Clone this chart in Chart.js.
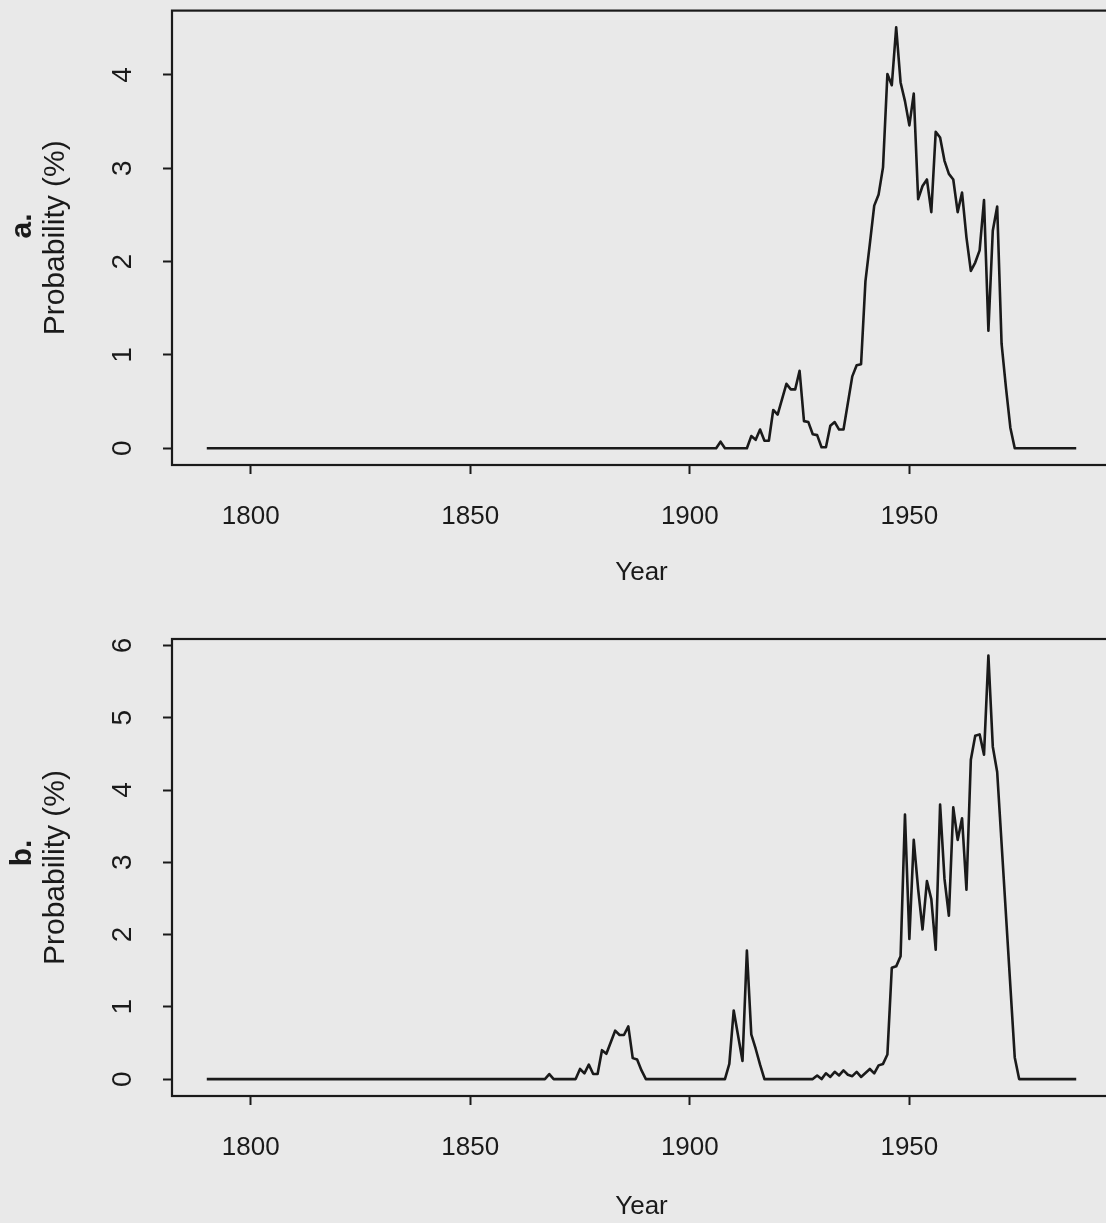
<!DOCTYPE html>
<html>
<head>
<meta charset="utf-8">
<title>Probability by year</title>
<script src="https://cdn.jsdelivr.net/npm/chart.js@4.4.1/dist/chart.umd.min.js"></script>
<style>
	html, body { margin: 0; padding: 0; overflow: hidden; width: 1106px; height: 1223px; background: #e9e9e9; }
	canvas { position: absolute; left: 0; }
	#chartA { top: 0; }
	#chartB { top: 600px; }
</style>
</head>
<body>
<canvas id="chartA" width="1111" height="588"></canvas>
<canvas id="chartB" width="1111" height="622"></canvas>
<script>
	"use strict";

	// tick positions shared by both panels
	var xTicks = [1800, 1850, 1900, 1950];
	var yTicksA = [0, 1, 2, 3, 4];
	var yTicksB = [0, 1, 2, 3, 4, 5, 6];

	// panel a: yearly probability (%), flat stretches kept as their end points
	var yearsA = [1790, 1906, 1907, 1908, 1913, 1914, 1915, 1916, 1917, 1918,
		1919, 1920, 1922, 1923, 1924, 1925, 1926, 1927, 1928, 1929,
		1930, 1931, 1932, 1933, 1934, 1935, 1937, 1938, 1939, 1940,
		1941, 1942, 1943, 1944, 1945, 1946, 1947, 1948, 1949, 1950,
		1951, 1952, 1953, 1954, 1955, 1956, 1957, 1958, 1959, 1960,
		1961, 1962, 1963, 1964, 1965, 1966, 1967, 1968, 1969, 1970,
		1971, 1972, 1973, 1974, 1988];
	var probA = [0, 0, 0.07, 0, 0, 0.13, 0.09, 0.20, 0.08, 0.08,
		0.41, 0.36, 0.69, 0.63, 0.63, 0.83, 0.29, 0.28, 0.15, 0.14,
		0.01, 0.01, 0.24, 0.28, 0.20, 0.20, 0.77, 0.89, 0.90, 1.79,
		2.19, 2.60, 2.72, 3.01, 4.01, 3.89, 4.51, 3.92, 3.72, 3.46,
		3.80, 2.67, 2.81, 2.88, 2.53, 3.39, 3.33, 3.08, 2.94, 2.88,
		2.53, 2.74, 2.26, 1.90, 1.99, 2.12, 2.66, 1.26, 2.33, 2.59,
		1.12, 0.65, 0.22, 0, 0];

	// panel b
	var yearsB = [1790, 1867, 1868, 1869, 1874, 1875, 1876, 1877, 1878, 1879,
		1880, 1881, 1882, 1883, 1884, 1885, 1886, 1887, 1888, 1889,
		1890, 1908, 1909, 1910, 1911, 1912, 1913, 1914, 1915, 1916,
		1917, 1928, 1929, 1930, 1931, 1932, 1933, 1934, 1935, 1936,
		1937, 1938, 1939, 1941, 1942, 1943, 1944, 1945, 1946, 1947,
		1948, 1949, 1950, 1951, 1952, 1953, 1954, 1955, 1956, 1957,
		1958, 1959, 1960, 1961, 1962, 1963, 1964, 1965, 1966, 1967,
		1968, 1969, 1970, 1974, 1975, 1988];
	var probB = [0, 0, 0.07, 0, 0, 0.14, 0.08, 0.20, 0.07, 0.07,
		0.40, 0.35, 0.51, 0.67, 0.61, 0.61, 0.73, 0.29, 0.27, 0.12,
		0, 0, 0.21, 0.95, 0.60, 0.25, 1.78, 0.62, 0.42, 0.20,
		0, 0, 0.05, 0, 0.08, 0.03, 0.10, 0.05, 0.12, 0.06,
		0.04, 0.10, 0.03, 0.14, 0.08, 0.19, 0.21, 0.34, 1.54, 1.56,
		1.70, 3.66, 1.94, 3.31, 2.63, 2.07, 2.74, 2.49, 1.79, 3.80,
		2.77, 2.26, 3.76, 3.31, 3.61, 2.62, 4.42, 4.75, 4.77, 4.49,
		5.86, 4.60, 4.25, 0.30, 0, 0];

	var INK = "#1a1a1a";
	var FAMILY = "'Liberation Sans', Arial, Helvetica, sans-serif";

	Chart.defaults.font.family = FAMILY;
	Chart.defaults.color = INK;

	/** Box round the plot region and the bold panel letter beside the y title */
	var framePlugin = {
		id: "frame",
		afterDraw: function (chart, args, opts) {
			var ctx = chart.ctx, area = chart.chartArea;
			ctx.save();
			ctx.strokeStyle = INK;
			ctx.lineWidth = 2.2;
			ctx.strokeRect(area.left, area.top, area.right - area.left, area.bottom - area.top);
			ctx.fillStyle = INK;
			ctx.font = "bold 30px " + FAMILY;
			ctx.textAlign = "center";
			ctx.textBaseline = "middle";
			ctx.translate(opts.x, opts.y);
			ctx.rotate(-Math.PI / 2);
			ctx.fillText(opts.letter, 0, 0);
			ctx.restore();
		}
	};

	function toPoints(years, values) {
		return years.map(function (yr, i) {
			return { x: yr, y: values[i] };
		});
	}

	function fixedTicks(list) {
		return function (scale) {
			scale.ticks = list.map(function (v) { return { value: v }; });
		};
	}

	var tickGrid = {
		display: true,
		drawOnChartArea: false,
		drawTicks: true,
		tickLength: 9,
		tickWidth: 2,
		tickColor: INK
	};

	/** Creates one panel
	 * @param {string} id - canvas id
	 * @param {object} cfg - data and layout for the panel
	 */
	function createPanel(id, cfg) {
		return new Chart(document.getElementById(id), {
			type: "line",
			data: {
				datasets: [{
					data: toPoints(cfg.years, cfg.values),
					borderColor: INK,
					borderWidth: 2.6,
					borderJoinStyle: "round",
					pointRadius: 0,
					tension: 0,
					fill: false
				}]
			},
			options: {
				responsive: false,
				animation: false,
				layout: { padding: { top: cfg.padTop, left: 0, right: 0, bottom: 0 } },
				plugins: {
					legend: { display: false },
					tooltip: { enabled: false },
					frame: { letter: cfg.letter, x: 23, y: cfg.letterY }
				},
				scales: {
					x: {
						type: "linear",
						bounds: "data",
						min: 1782.08,
						max: 1995.92,
						afterBuildTicks: fixedTicks(xTicks),
						afterFit: function (s) {
							s.height = cfg.xHeight;
							s.paddingLeft = 0;
							s.paddingRight = 0;
						},
						grid: tickGrid,
						border: { display: false },
						ticks: {
							font: { size: 26 },
							padding: 27,
							maxRotation: 0,
							autoSkip: false,
							callback: function (v) { return String(v); }
						},
						title: { display: true, text: "Year", font: { size: 26 }, padding: 0 }
					},
					y: {
						type: "linear",
						bounds: "data",
						min: cfg.yMin,
						max: cfg.yMax,
						afterBuildTicks: fixedTicks(cfg.yTicks),
						afterFit: function (s) {
							s.width = 172;
							s.paddingTop = 0;
							s.paddingBottom = 0;
						},
						grid: tickGrid,
						border: { display: false },
						ticks: {
							font: { size: 28 },
							padding: 32,
							minRotation: 90,
							maxRotation: 90,
							crossAlign: "center",
							callback: function (v) { return String(v); }
						},
						title: {
							display: true,
							text: "Probability (%)",
							font: { size: 30 },
							padding: { top: 38, bottom: 0 }
						}
					}
				}
			},
			plugins: [framePlugin]
		});
	}

	createPanel("chartA", {
		years: yearsA, values: probA, yTicks: yTicksA,
		yMin: -0.18, yMax: 4.69,
		padTop: 10.6, xHeight: 123,
		letter: "a.", letterY: 226
	});

	createPanel("chartB", {
		years: yearsB, values: probB, yTicks: yTicksB,
		yMin: -0.234, yMax: 6.09,
		padTop: 39, xHeight: 126,
		letter: "b.", letterY: 253
	});
</script>
</body>
</html>
